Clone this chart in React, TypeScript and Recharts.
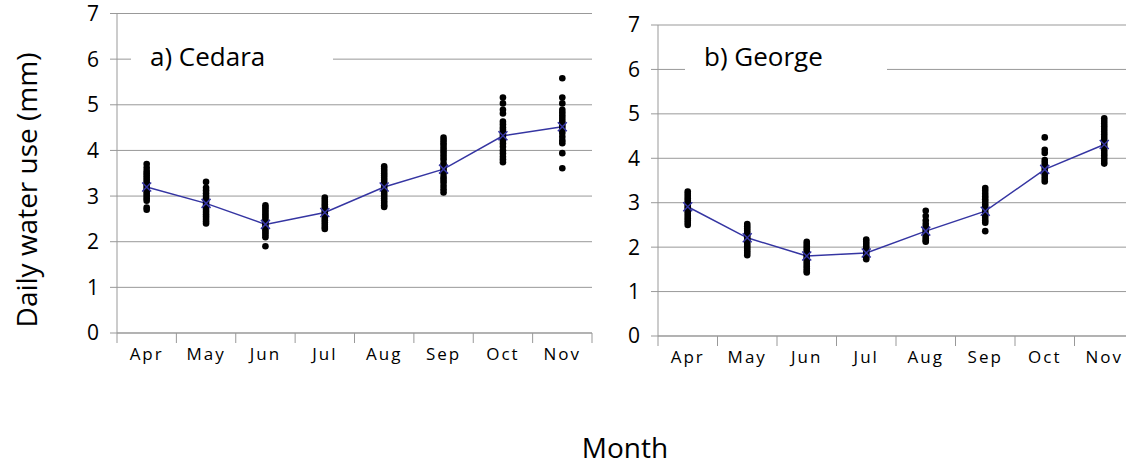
import React from "react"
import {
  ComposedChart,
  Scatter,
  Line,
  XAxis,
  YAxis,
  CartesianGrid,
} from "recharts"

const months = ["Apr", "May", "Jun", "Jul", "Aug", "Sep", "Oct", "Nov"]
const yTicks = [0, 1, 2, 3, 4, 5, 6, 7]
const bandEdges = [0, 1, 2, 3, 4, 5, 6, 7, 8]
const bandCentres = [0.5, 1.5, 2.5, 3.5, 4.5, 5.5, 6.5, 7.5]

// monthly mean daily water use (mm)
const cedaraMean = [3.2, 2.84, 2.38, 2.64, 3.2, 3.59, 4.32, 4.52]
const georgeMean = [2.91, 2.21, 1.8, 1.87, 2.36, 2.81, 3.75, 4.31]

// daily values, one list per month (Apr..Nov)
const cedaraDaily = [
  [3.7, 3.62, 3.55, 3.5, 3.45, 3.4, 3.35, 3.3, 3.25, 3.2, 3.15, 3.1, 3.05, 3.0, 2.95, 2.9, 2.75, 2.7],
  [3.31, 3.18, 3.12, 3.06, 3.0, 2.95, 2.9, 2.85, 2.8, 2.75, 2.7, 2.65, 2.6, 2.55, 2.5, 2.45, 2.4],
  [2.8, 2.75, 2.7, 2.65, 2.6, 2.55, 2.5, 2.45, 2.4, 2.35, 2.3, 2.25, 2.2, 2.15, 2.1, 1.9],
  [2.97, 2.92, 2.87, 2.82, 2.77, 2.72, 2.67, 2.62, 2.57, 2.52, 2.47, 2.42, 2.37, 2.32, 2.28],
  [3.65, 3.6, 3.55, 3.5, 3.45, 3.4, 3.35, 3.3, 3.25, 3.2, 3.15, 3.1, 3.05, 3.0, 2.95, 2.9, 2.85, 2.8, 2.76],
  [4.28, 4.22, 4.16, 4.1, 4.04, 3.98, 3.92, 3.86, 3.8, 3.72, 3.66, 3.6, 3.55, 3.5, 3.42, 3.36, 3.3, 3.22, 3.15, 3.08],
  [5.16, 5.03, 4.89, 4.81, 4.63, 4.57, 4.5, 4.45, 4.4, 4.35, 4.3, 4.22, 4.15, 4.08, 4.0, 3.93, 3.86, 3.8, 3.74],
  [5.58, 5.16, 5.03, 4.89, 4.83, 4.77, 4.71, 4.65, 4.6, 4.55, 4.5, 4.44, 4.38, 4.3, 4.22, 4.16, 3.94, 3.61],
]
const georgeDaily = [
  [3.25, 3.2, 3.15, 3.1, 3.05, 3.0, 2.95, 2.9, 2.85, 2.8, 2.75, 2.7, 2.65, 2.6, 2.55, 2.5],
  [2.52, 2.47, 2.42, 2.37, 2.32, 2.27, 2.22, 2.17, 2.12, 2.07, 2.02, 1.97, 1.92, 1.87, 1.82],
  [2.12, 2.07, 2.02, 1.97, 1.92, 1.87, 1.82, 1.77, 1.72, 1.67, 1.62, 1.57, 1.52, 1.47, 1.43],
  [2.17, 2.12, 2.07, 2.02, 1.97, 1.92, 1.87, 1.82, 1.77, 1.73],
  [2.82, 2.7, 2.6, 2.52, 2.45, 2.4, 2.35, 2.3, 2.25, 2.2, 2.15, 2.12],
  [3.33, 3.27, 3.2, 3.14, 3.08, 3.02, 2.96, 2.9, 2.84, 2.78, 2.72, 2.66, 2.6, 2.55, 2.36],
  [4.47, 4.19, 4.12, 3.96, 3.9, 3.84, 3.78, 3.72, 3.66, 3.6, 3.54, 3.48],
  [4.9, 4.84, 4.78, 4.72, 4.66, 4.6, 4.54, 4.48, 4.42, 4.36, 4.3, 4.24, 4.18, 4.12, 4.06, 4.0, 3.94, 3.88],
]

const GREY = "#999"
const BLUE = "#3535a2"
const FONT = "'Open Sans', 'Liberation Sans', Arial, sans-serif"

const Cross = (props: any) => {
  const { cx, cy } = props
  if (cx == null || cy == null) return null
  const s = 4.5
  return (
    <path
      d={`M${cx - s},${cy - s}L${cx + s},${cy + s}M${cx - s},${cy + s}L${cx + s},${cy - s}`}
      stroke={BLUE}
      strokeWidth={1.5}
      fill="none"
    />
  )
}

const Dot = (props: any) => <circle cx={props.cx} cy={props.cy} r={3.3} fill="#000" />

interface PanelProps {
  left: number
  width: number
  margin: { top: number; right: number; left: number; bottom: number }
  means: number[]
  daily: number[][]
  title: string
  titleLeft: number
}

function Panel({ left, width, margin, means, daily, title, titleLeft }: PanelProps) {
  const points = daily.flatMap((vals, i) => vals.map((v) => ({ x: bandCentres[i], y: v })))
  const meanLine = means.map((v, i) => ({ x: bandCentres[i], y: v }))

  return (
    <>
      <div style={{ position: "absolute", left, top: 0 }}>
        <ComposedChart width={width} height={400} margin={margin}>
          <CartesianGrid vertical={false} stroke={GREY} />
          <XAxis
            xAxisId="edges"
            type="number"
            dataKey="x"
            domain={[0, 8]}
            ticks={bandEdges}
            tickFormatter={() => ""}
            height={10}
            tickSize={10}
            stroke={GREY}
            tickLine={{ stroke: GREY }}
          />
          <XAxis
            xAxisId="names"
            type="number"
            dataKey="x"
            domain={[0, 8]}
            ticks={bandCentres}
            tickFormatter={(v: number) => months[Math.floor(v)]}
            height={30}
            axisLine={false}
            tickLine={false}
            tickSize={0}
            tickMargin={5}
            tick={{ fill: "#000", fontSize: 17, fontFamily: FONT, letterSpacing: 2 }}
          />
          <YAxis
            type="number"
            dataKey="y"
            domain={[0, 7]}
            ticks={yTicks}
            width={50}
            tickSize={7}
            tickMargin={11}
            stroke={GREY}
            tick={{ fill: "#000", fontSize: 21, fontFamily: FONT }}
          />
          <Scatter
            xAxisId="edges"
            data={points}
            shape={Dot}
            isAnimationActive={false}
          />
          <Line
            xAxisId="names"
            data={meanLine}
            dataKey="y"
            stroke={BLUE}
            strokeWidth={1.5}
            dot={<Cross />}
            activeDot={false}
            isAnimationActive={false}
          />
        </ComposedChart>
      </div>
      <div
        style={{
          position: "absolute",
          left: titleLeft,
          top: 32,
          width: 202,
          height: 48,
          background: "#fff",
          fontFamily: FONT,
          fontSize: 26,
          lineHeight: "48px",
          paddingLeft: 19,
          boxSizing: "border-box",
          color: "#000",
        }}
      >
        {title}
      </div>
    </>
  )
}

export default function App() {
  return (
    <div
      style={{
        position: "fixed",
        left: 0,
        top: 0,
        width: 1126,
        height: 467,
        overflow: "hidden",
        background: "#fff",
      }}
    >
      <Panel
        left={0}
        width={600}
        margin={{ top: 13.5, right: 8, left: 67, bottom: 27 }}
        means={cedaraMean}
        daily={cedaraDaily}
        title="a) Cedara"
        titleLeft={131}
      />
      <Panel
        left={560}
        width={580}
        margin={{ top: 25, right: 6, left: 48, bottom: 24 }}
        means={georgeMean}
        daily={georgeDaily}
        title="b) George"
        titleLeft={685}
      />
      <svg
        width={1126}
        height={467}
        style={{ position: "absolute", left: 0, top: 0, pointerEvents: "none" }}
      >
        <text
          x={0}
          y={0}
          transform="translate(37,190) rotate(-90)"
          textAnchor="middle"
          fontFamily={FONT}
          fontSize={28}
          fill="#000"
        >
          Daily water use (mm)
        </text>
        <text x={625} y={458} textAnchor="middle" fontFamily={FONT} fontSize={28} fill="#000">
          Month
        </text>
      </svg>
    </div>
  )
}
